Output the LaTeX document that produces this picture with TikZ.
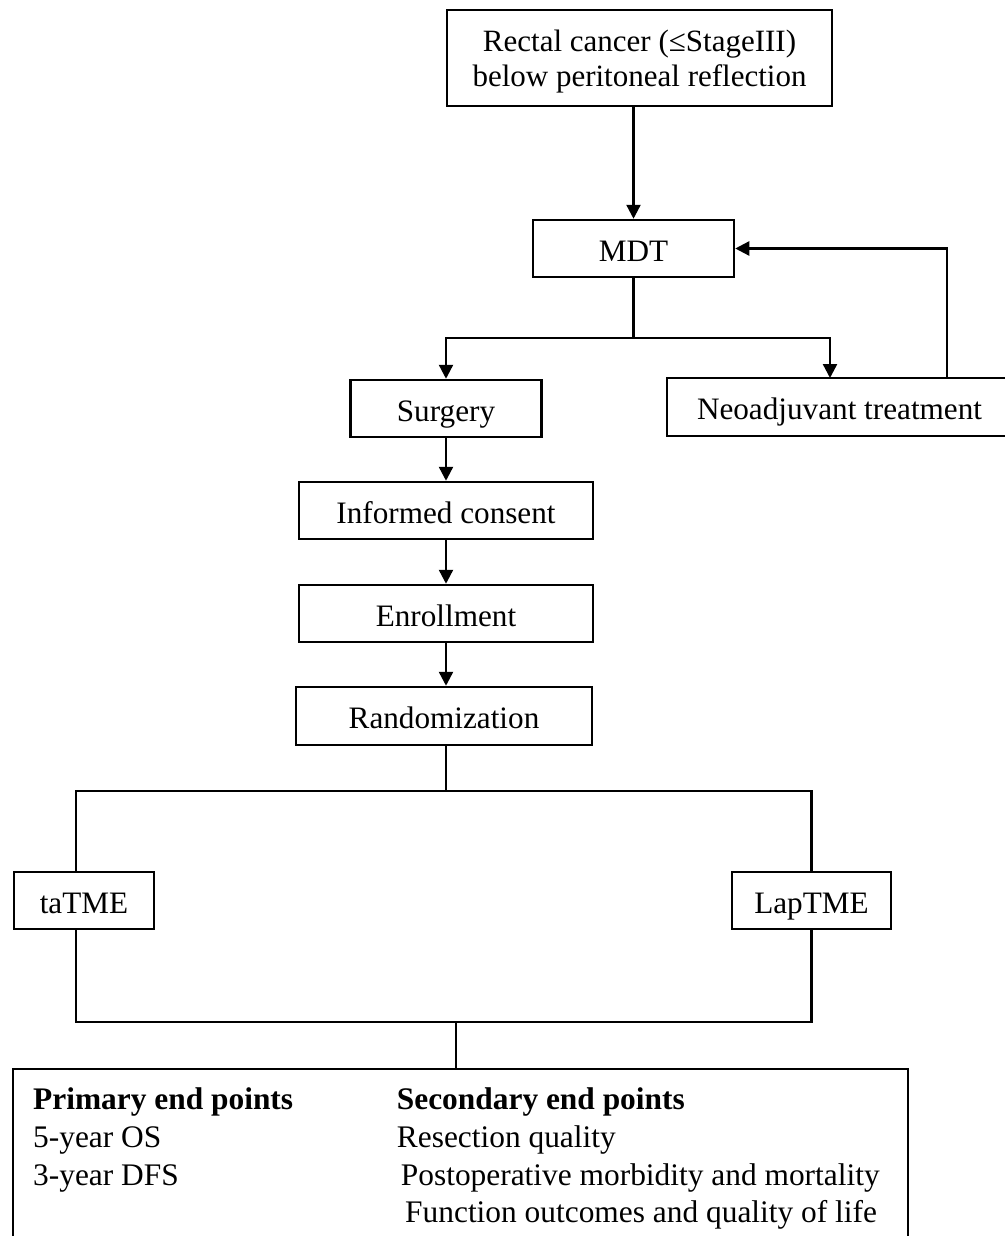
\documentclass[tikz,border=0pt]{standalone}
\usepackage{fontspec}
\setmainfont{Liberation Serif}
\usetikzlibrary{arrows.meta,calc}
\begin{document}
\begin{tikzpicture}[x=1pt,y=-1pt,
  frame/.style={draw, line width=2.5pt, inner sep=0pt},
  box/.style={frame, minimum height=57pt, text height=25pt, text depth=0pt,
    font=\fontsize{31.2}{35}\selectfont},
  conn/.style={line width=2.4pt},
  arr/.style={conn, -{Triangle[length=14pt,width=14pt]}},
  endtext/.style={anchor=base west, inner sep=0pt, font=\fontsize{31.4}{35}\selectfont},
  endbold/.style={anchor=base west, inner sep=0pt, font=\bfseries\fontsize{31.4}{35}\selectfont}]
\useasboundingbox (0,0) rectangle (1004,1236);
\fill[white] (0,0) rectangle (1004,1236);

\node[frame, minimum width=385pt, minimum height=96pt] (top) at (639.5,58) {};
\node[align=center, inner sep=0pt, font=\fontsize{31}{35}\selectfont] (toplbl)
  at ($(top.center)+(0,4)$) {Rectal cancer (≤StageIII)\\below peritoneal reflection};
\node[box, minimum width=201pt] (mdt) at (633.5,248.5) {MDT};
\node[box, minimum width=191pt] (surg) at (446,408.5) {Surgery};
\node[box, minimum width=345pt, minimum height=58pt] (neo) at (839.5,407) {Neoadjuvant treatment};
\node[box, minimum width=294pt] (ic) at (446,510.5) {Informed consent};
\node[box, minimum width=294pt] (enr) at (446,613.5) {Enrollment};
\node[box, minimum width=296pt, minimum height=58pt] (rand) at (444,716) {Randomization};
\node[box, minimum width=140pt] (ta) at (84,900.5) {taTME};
\node[box, minimum width=159pt] (lap) at (811.5,900.5) {LapTME};
\node[frame, minimum width=895pt, minimum height=200pt] (endp) at (460.5,1169) {};

% connectors
\draw[arr] (top.south -| mdt.north) -- (mdt.north);
\coordinate (br) at (633.5,338);
\draw[conn] (mdt.south) -- (br);
\coordinate (neoin) at (830,378);
\coordinate (neofb) at (946.7,378);
\draw[arr] (br) -| (surg.north);
\draw[arr] (br) -| (neoin);
\draw[arr] (neofb) |- (mdt.east);
\draw[arr] (surg.south) -- (ic.north);
\draw[arr] (ic.south) -- (enr.north);
\draw[arr] (enr.south) -- (enr.south |- rand.north);
\coordinate (rb) at (446,791);
\draw[conn] (rb |- rand.south) -- (rb);
\coordinate (tain) at (76,872);
\draw[conn] (tain) -- (tain |- rb) -- (lap.north |- rb) -- (lap.north);
\coordinate (taout) at (76,929);
\coordinate (jb) at (456,1022);
\draw[conn] (taout) -- (taout |- jb) -- (lap.south |- jb) -- (lap.south);
\draw[conn] (jb) -- (jb |- endp.north);

% end points text
\node[endbold] (p1) at (33,1109) {Primary end points};
\node[endtext] (p2) at (33,1147) {5-year OS};
\node[endtext] (p3) at (33,1185) {3-year DFS};
\node[endbold] (s1) at (396.7,1109) {Secondary end points};
\node[endtext] (s2) at (396.7,1147) {Resection quality};
\node[endtext] (s3) at (400.7,1185) {Postoperative morbidity and mortality};
\node[endtext] (s4) at (405,1222) {Function outcomes and quality of life};
\end{tikzpicture}
\end{document}
